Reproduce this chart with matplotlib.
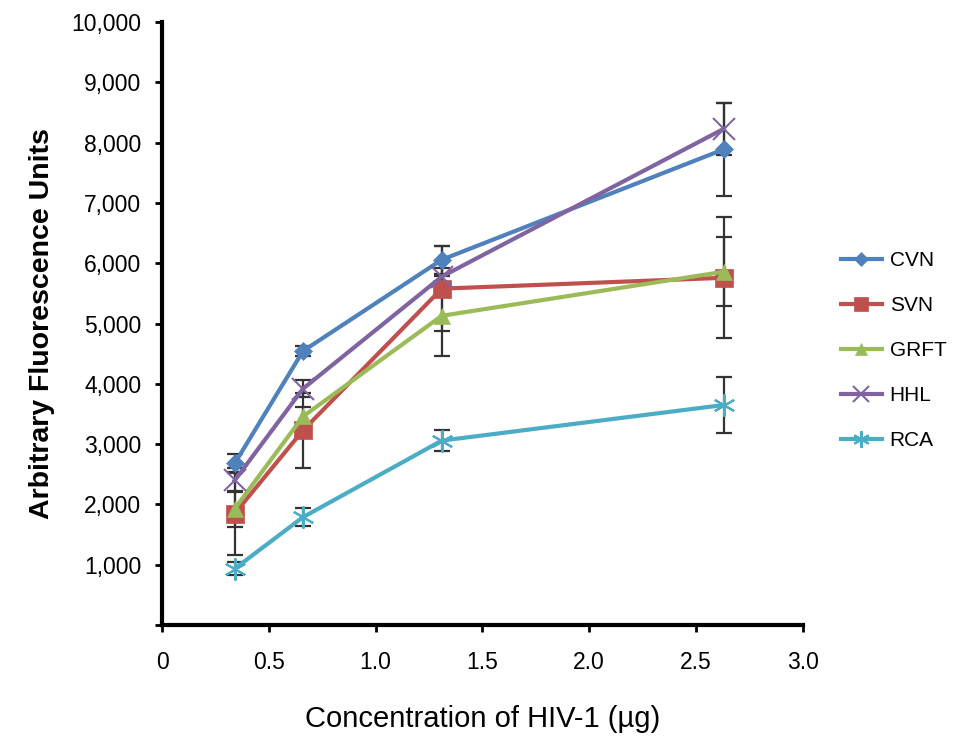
import matplotlib
matplotlib.use("Agg")
import matplotlib.pyplot as plt

plt.rcParams['font.family'] = ['Liberation Sans', 'DejaVu Sans']

concentration = [0.34, 0.66, 1.31, 2.63]
series_names = ["CVN", "SVN", "GRFT", "HHL", "RCA"]
cvn = [2680, 4545, 6060, 7890]
cvn_err = [150, 80, 235, 770]
svn = [1850, 3230, 5580, 5760]
svn_err = [690, 625, 700, 1000]
grft = [1930, 3460, 5130, 5860]
grft_err = [300, 150, 660, 570]
hhl = [2400, 3920, 5780, 8230]
hhl_err = [200, 140, 150, 430]
rca = [935, 1790, 3060, 3650]
rca_err = [110, 150, 180, 470]
x_ticks = [0, 0.5, 1.0, 1.5, 2.0, 2.5, 3.0]
x_tick_labels = ["0", "0.5", "1.0", "1.5", "2.0", "2.5", "3.0"]
y_ticks = list(range(0, 10001, 1000))
y_tick_labels = ["", "1,000", "2,000", "3,000", "4,000", "5,000", "6,000",
                 "7,000", "8,000", "9,000", "10,000"]

values = [cvn, svn, grft, hhl, rca]
errors = [cvn_err, svn_err, grft_err, hhl_err, rca_err]
colors = ["#4f81bd", "#c0504d", "#9bbb59", "#8064a2", "#4bacc6"]
markers = ["D", "s", "^", "x", (6, 2, 0)]
msizes = [9, 13, 12, 16, 16]

fig = plt.figure(figsize=(9.59, 7.38), dpi=100)
ax = fig.add_axes([0.169, 0.153, 0.668, 0.817])

for name, v, e, c, m, ms in zip(series_names, values, errors, colors, markers, msizes):
    ax.errorbar(concentration, v, yerr=e, fmt='none', ecolor='#333333',
                elinewidth=1.6, capsize=6, capthick=1.6, zorder=2)
for name, v, e, c, m, ms in zip(series_names, values, errors, colors, markers, msizes):
    ax.plot(concentration, v, color=c, lw=3, marker=m, markersize=ms,
            markeredgewidth=1.5 if m in ("x", (6, 2, 0)) else 0.5,
            markeredgecolor=c, label=name, zorder=3)

ax.set_xlim(0, 3.0)
ax.set_ylim(0, 10000)
ax.set_xticks(x_ticks)
ax.set_xticklabels(x_tick_labels)
ax.set_yticks(y_ticks)
ax.set_yticklabels(y_tick_labels)
ax.tick_params(axis='both', labelsize=16.5, width=2, length=5, colors='black')
ax.tick_params(axis='x', pad=14)
ax.tick_params(axis='y', pad=10)
for s in ["top", "right"]:
    ax.spines[s].set_visible(False)
for s in ["left", "bottom"]:
    ax.spines[s].set_linewidth(3)

ax.set_ylabel("Arbitrary Fluorescence Units", fontsize=20.5, fontweight='bold', labelpad=12)
ax.set_xlabel("Concentration of HIV-1 (µg)", fontsize=21, labelpad=22)

leg = ax.legend(loc='center left', bbox_to_anchor=(1.03, 0.455), frameon=False,
                fontsize=15, handlelength=2.0, handletextpad=0.35,
                labelspacing=1.25, markerscale=0.75)

fig.savefig("out.png", dpi=100)
